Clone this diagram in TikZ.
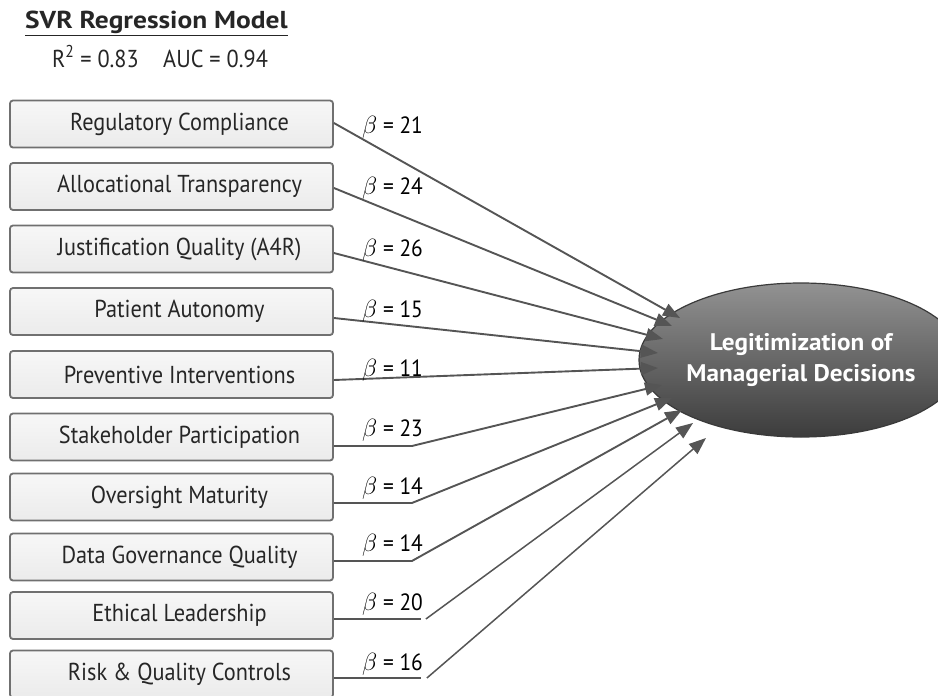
\documentclass[tikz,border=0pt]{standalone}
\usepackage{fontspec}
\setmainfont{PT Sans}[FakeStretch=0.91]
\newfontfamily\ovalfont{PT Sans}[FakeStretch=1.05]
\newfontfamily\headfont{PT Sans}[FakeStretch=1.12]
\usetikzlibrary{shapes.geometric,arrows.meta,calc}
\definecolor{boxedge}{HTML}{707070}
\definecolor{boxtop}{HTML}{F7F7F7}
\definecolor{boxbot}{HTML}{EBEBEB}
\definecolor{wirecol}{HTML}{555555}
\definecolor{inkcol}{HTML}{262626}
\definecolor{ovaltop}{HTML}{929292}
\definecolor{ovalbot}{HTML}{3C3C3C}
\definecolor{ovaledge}{HTML}{3A3A3A}
\begin{document}
\begin{tikzpicture}[x=1pt,y=-1pt,
  factor/.style={draw=boxedge, line width=1.8pt, rounded corners=3pt,
    top color=boxtop, bottom color=boxbot, minimum width=323pt,
    minimum height=47pt, inner sep=0pt, text=inkcol,
    execute at begin node=\hspace*{16pt},
    font=\fontsize{24.5}{28}\selectfont},
  coef/.style={anchor=west, inner sep=0pt, text=black,
    font=\fontsize{23.5}{27}\selectfont},
  wire/.style={draw=wirecol, line width=1.9pt},
  conn/.style={wire, -{Triangle[length=17pt,width=13pt]}},
  thinconn/.style={conn, line width=1.5pt},
  outcome/.style={ellipse, draw=ovaledge, line width=1.2pt,
    top color=ovaltop, bottom color=ovalbot, minimum width=278pt,
    minimum height=154pt, inner sep=0pt, text=white, align=center,
    font=\ovalfont\bfseries\fontsize{24}{31}\selectfont}]
\useasboundingbox (0,0) rectangle (938,696);

% heading and fit statistics
\node[anchor=base west, inner sep=0pt, text=inkcol,
  font=\headfont\bfseries\fontsize{24.5}{28}\selectfont] (title) at (25,28) {SVR Regression Model};
\draw[inkcol, line width=1.4pt] ([yshift=-7.5pt]title.base west) -- ([yshift=-7.5pt]title.base east);
\node[anchor=base, inner sep=0pt, text=inkcol, font=\fontsize{24.5}{28}\selectfont]
  (fit) at (160,67) {R\textsuperscript{2} = 0.83\quad AUC = 0.94};

% predictor boxes
\node[factor] (b1)  at (171.5,124)   {Regulatory Compliance};
\node[factor] (b2)  at (171.5,186.5) {Allocational Transparency};
\node[factor] (b3)  at (171.5,249)   {Justification Quality (A4R)};
\node[factor] (b4)  at (171.5,311.5) {Patient Autonomy};
\node[factor] (b5)  at (171.5,374.5) {Preventive Interventions};
\node[factor] (b6)  at (171.5,437)   {Stakeholder Participation};
\node[factor] (b7)  at (171.5,497)   {Oversight Maturity};
\node[factor] (b8)  at (171.5,557)   {Data Governance Quality};
\node[factor] (b9)  at (171.5,615.5) {Ethical Leadership};
\node[factor] (b10) at (171.5,674)   {Risk \& Quality Controls};

% outcome
\node[outcome] (out) at (801,360) {Legitimization of\\Managerial Decisions};

% arrow tips around the outcome
\coordinate (t1)  at (680,318);
\coordinate (t2)  at (672,326);
\coordinate (t3)  at (663,339);
\coordinate (t4)  at (658,353);
\coordinate (t5)  at (658,368);
\coordinate (t6)  at (662,385);
\coordinate (t7)  at (672,398);
\coordinate (t8)  at (682,410);
\coordinate (t9)  at (693,423);
\coordinate (t10) at (706,438);

% direct paths
\draw[conn] ([yshift=1pt]b1.east) -- (t1);
\draw[conn] ([yshift=-1.5pt]b2.east) -- (t2);
\draw[conn] ([yshift=-4pt]b3.east) -- (t3);
\draw[conn] ([yshift=-6.5pt]b4.east) -- (t4);
\draw[conn] ([yshift=-5.5pt]b5.east) -- (t5);

% elbowed paths
\draw[conn] ([yshift=-9pt]b6.east) -- ++(78,0) -- (t6);
\draw[conn] ([yshift=-6pt]b7.east) -- ++(78,0) -- (t7);
\draw[conn] ([yshift=-4pt]b8.east) -- ++(78,0) -- (t8);
\draw[wire, line width=1.6pt] ([yshift=-3.5pt]b9.east) -- ++(87,0) coordinate (k9);
\draw[thinconn] ($(k9)+(5,0)$) -- (t9);
\draw[wire, line width=1.6pt] ([yshift=-4pt]b10.east) -- ++(87,0) coordinate (k10);
\draw[thinconn] ($(k10)+(6,0)$) -- (t10);

% coefficients
\node[coef] (c1)  at (362,127) {$\beta$ = 21};
\node[coef] (c2)  at (362,188) {$\beta$ = 24};
\node[coef] (c3)  at (362,250) {$\beta$ = 26};
\node[coef] (c4)  at (362,311) {$\beta$ = 15};
\node[coef] (c5)  at (362,370) {$\beta$ = 11};
\node[coef] (c6)  at (362,430) {$\beta$ = 23};
\node[coef] (c7)  at (362,488) {$\beta$ = 14};
\node[coef] (c8)  at (362,545) {$\beta$ = 14};
\node[coef] (c9)  at (362,604) {$\beta$ = 20};
\node[coef] (c10) at (362,664) {$\beta$ = 16};
\end{tikzpicture}
\end{document}
